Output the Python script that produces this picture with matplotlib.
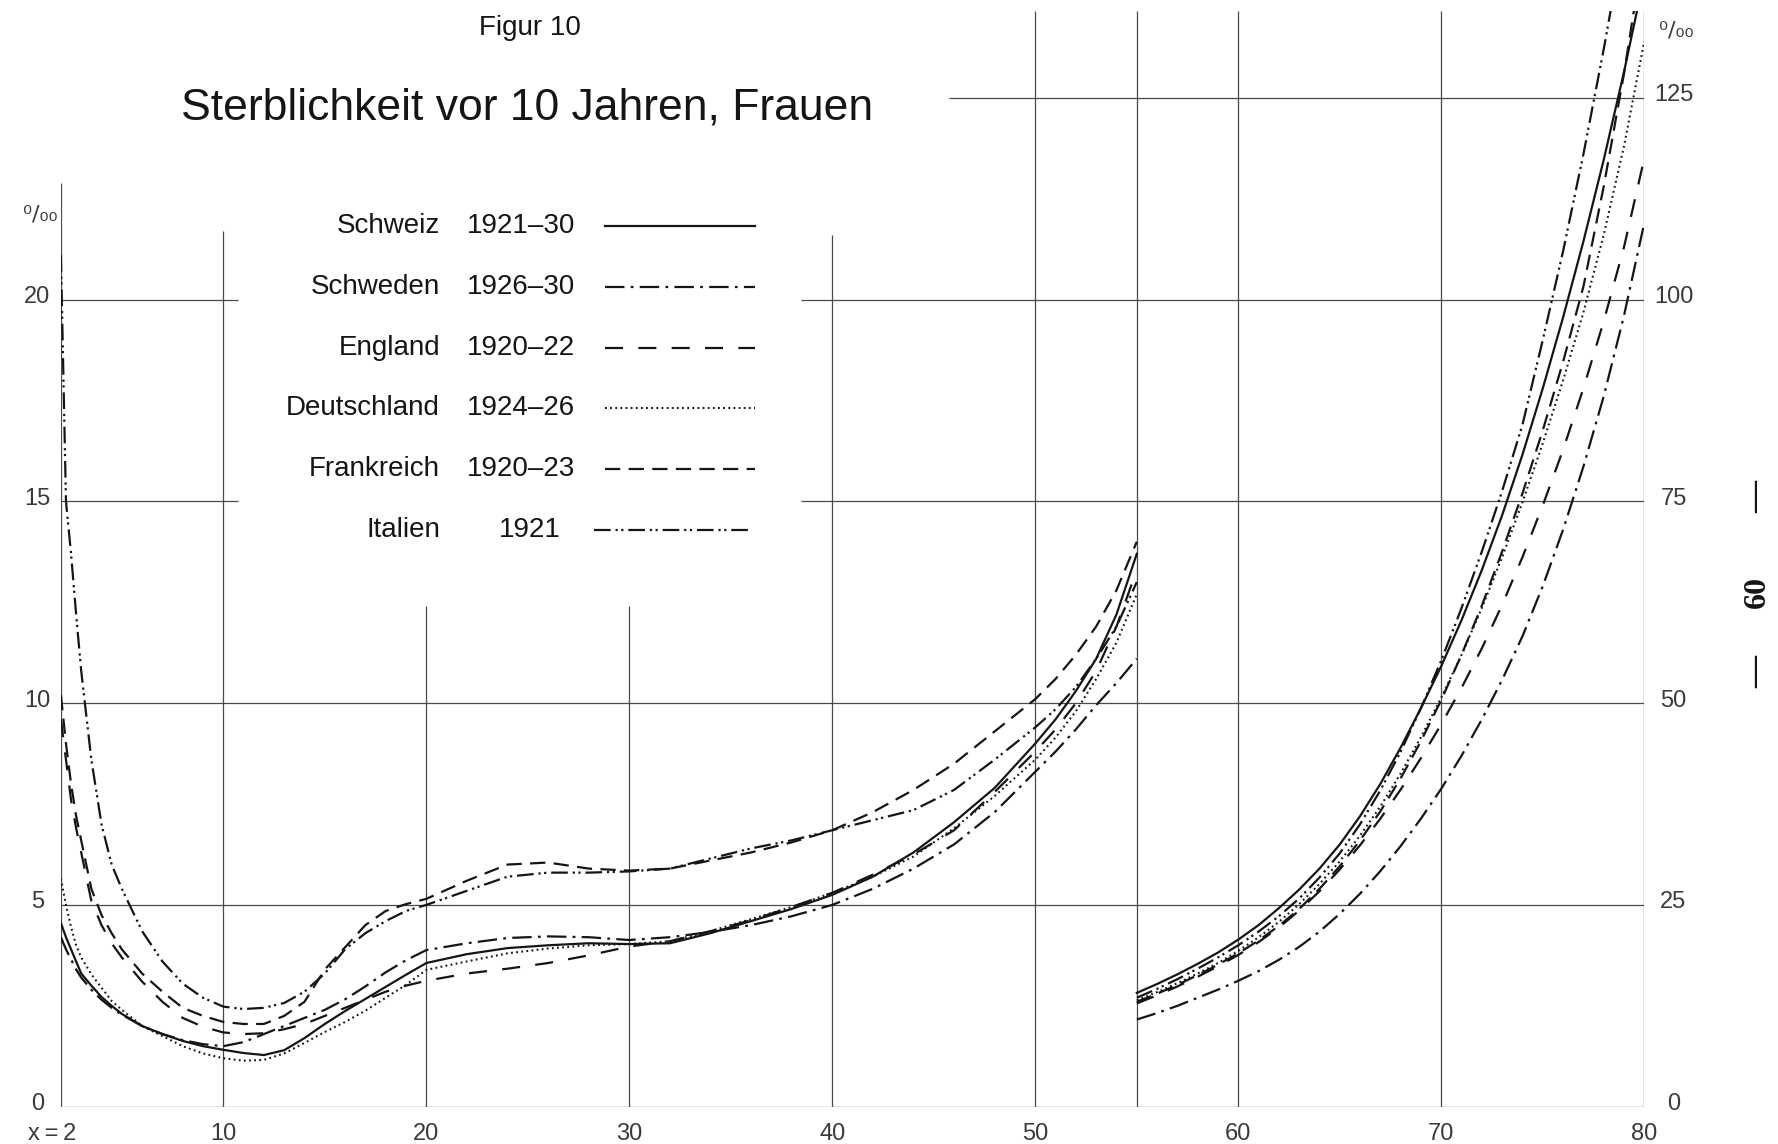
import matplotlib
matplotlib.use("Agg")
import matplotlib.pyplot as plt
from matplotlib.lines import Line2D
from matplotlib.transforms import ScaledTranslation

plt.rcParams['font.family'] = ['Liberation Sans Narrow', 'Liberation Sans', 'DejaVu Sans']
plt.rcParams['lines.scale_dashes'] = False

# Sterblichkeit (Promille) im Alter 2-55, linke Skala
ages_young = [2, 2.25, 2.5, 2.75, 3, 3.5, 4, 4.5, 5, 6, 7, 8, 9, 10, 11, 12, 13, 14, 15, 16, 17, 18, 19, 20,
              22, 24, 26, 28, 30, 32, 34, 36, 38, 40, 42, 44, 46, 48, 50, 51, 52, 53, 54, 55]
schweiz_young = [4.55, 4.2, 3.9, 3.6, 3.3, 3.0, 2.72, 2.5, 2.3, 2.0, 1.8, 1.63, 1.5, 1.41, 1.33, 1.28, 1.4, 1.7,
                 2.05, 2.37, 2.67, 2.97, 3.27, 3.56, 3.78, 3.93, 4.0, 4.05, 4.03, 4.05, 4.3, 4.6, 4.9, 5.25,
                 5.7, 6.3, 7.05, 7.9, 9.0, 9.6, 10.3, 11.1, 12.2, 13.7]
schweden_young = [4.2, 3.9, 3.65, 3.4, 3.2, 2.9, 2.65, 2.45, 2.28, 2.0, 1.8, 1.65, 1.55, 1.5, 1.6, 1.8, 2.0, 2.2,
                  2.4, 2.66, 2.98, 3.33, 3.63, 3.88, 4.05, 4.18, 4.22, 4.2, 4.13, 4.2, 4.33, 4.5, 4.72, 5.0,
                  5.4, 5.9, 6.5, 7.3, 8.3, 8.8, 9.35, 9.95, 10.5, 11.1]
england_young = [9.6, 8.6, 7.6, 6.9, 6.3, 5.1, 4.5, 4.05, 3.7, 3.1, 2.6, 2.2, 1.98, 1.84, 1.8, 1.82, 1.92, 2.05,
                 2.25, 2.45, 2.65, 2.85, 3.0, 3.12, 3.3, 3.42, 3.56, 3.75, 3.97, 4.1, 4.35, 4.62, 4.95, 5.3,
                 5.75, 6.25, 6.85, 7.8, 8.8, 9.35, 10.0, 10.8, 11.9, 13.3]
deutschland_young = [5.65, 5.0, 4.45, 4.0, 3.7, 3.28, 2.95, 2.62, 2.4, 2.0, 1.75, 1.5, 1.32, 1.2, 1.14, 1.16, 1.32,
                     1.58, 1.85, 2.1, 2.38, 2.7, 3.02, 3.39, 3.6, 3.8, 3.92, 4.0, 4.03, 4.1, 4.35, 4.65, 4.95,
                     5.3, 5.7, 6.2, 6.9, 7.7, 8.6, 9.15, 9.8, 10.6, 11.5, 12.7]
frankreich_young = [10.2, 9.0, 8.0, 7.2, 6.6, 5.4, 4.75, 4.3, 3.9, 3.3, 2.85, 2.45, 2.25, 2.1, 2.05, 2.05, 2.25,
                    2.6, 3.4, 3.95, 4.5, 4.85, 5.02, 5.15, 5.6, 6.0, 6.05, 5.9, 5.85, 5.9, 6.1, 6.3, 6.55, 6.85,
                    7.3, 7.85, 8.5, 9.3, 10.1, 10.6, 11.2, 11.9, 12.8, 14.0]
italien_young = [21.1, 15.0, 13.7, 12.2, 10.8, 8.6, 7.0, 6.0, 5.4, 4.35, 3.6, 3.05, 2.7, 2.48, 2.42, 2.45, 2.57,
                 2.85, 3.3, 3.9, 4.3, 4.6, 4.85, 5.0, 5.35, 5.7, 5.8, 5.8, 5.83, 5.9, 6.15, 6.4, 6.6, 6.85,
                 7.1, 7.35, 7.85, 8.6, 9.4, 9.85, 10.4, 11.1, 11.9, 13.0]

# Sterblichkeit (Promille) im Alter 55-80, rechte Skala
ages_old = list(range(55, 81))
schweiz_old = [14.1, 15.2, 16.4, 17.7, 19.1, 20.7, 22.5, 24.6, 26.9, 29.5, 32.5, 36.0, 40.0, 44.5, 49.4,
               54.6, 60.3, 66.5, 73.3, 80.8, 89.0, 97.8, 107.2, 117.3, 128.2, 140.0]
schweden_old = [10.8, 11.6, 12.5, 13.5, 14.5, 15.6, 16.8, 18.2, 19.8, 21.7, 23.9, 26.4, 29.2, 32.3, 35.7,
                39.4, 43.5, 48.0, 52.9, 58.3, 64.5, 71.5, 79.3, 88.0, 98.0, 109.5]
england_old = [12.8, 13.8, 14.9, 16.1, 17.4, 18.8, 20.4, 22.2, 24.3, 26.7, 29.4, 32.4, 35.7, 39.3, 43.2,
               47.4, 51.9, 56.8, 62.2, 68.1, 74.5, 81.4, 89.0, 97.3, 106.5, 117.5]
deutschland_old = [13.2, 14.2, 15.3, 16.5, 17.8, 19.3, 21.0, 22.9, 25.1, 27.6, 30.4, 33.6, 37.2, 41.3, 45.8,
                   50.7, 56.0, 61.8, 68.1, 74.9, 82.2, 90.0, 98.4, 108.0, 119.0, 132.0]
frankreich_old = [13.0, 14.0, 15.1, 16.3, 17.6, 19.0, 20.6, 22.4, 24.5, 27.0, 29.8, 33.0, 36.6, 40.7, 45.3,
                  50.4, 56.0, 62.1, 68.8, 76.0, 83.8, 92.3, 101.6, 114.0, 128.0, 144.0]
italien_old = [13.5, 14.6, 15.8, 17.1, 18.5, 20.0, 21.7, 23.6, 25.8, 28.4, 31.4, 35.0, 39.2, 44.0, 49.4,
               55.3, 61.8, 68.8, 76.3, 84.5, 95.0, 106.0, 118.0, 131.0, 145.0, 160.0]

countries = ['Schweiz', 'Schweden', 'England', 'Deutschland', 'Frankreich', 'Italien']
periods = ['1921\u201330', '1926\u201330', '1920\u201322', '1924\u201326', '1920\u201323', '1921']
young = [schweiz_young, schweden_young, england_young, deutschland_young, frankreich_young, italien_young]
old = [schweiz_old, schweden_old, england_old, deutschland_old, frankreich_old, italien_old]

left_ticks = [0, 5, 10, 15, 20]
right_ticks = [0, 25, 50, 75, 100, 125]
x_ticks = [2, 10, 20, 30, 40, 50, 60, 70, 80]
x_labels = ['x\u2009=\u20092', '10', '20', '30', '40', '50', '60', '70', '80']

INK = '#151515'
GRID = '#4a4a4a'
LABEL = '#3a3a3a'
styles = {
    'Schweiz': dict(linestyle='-', lw=1.6),
    'Schweden': dict(linestyle=(0, (14, 4.5, 2, 4.5)), lw=1.6),
    'England': dict(linestyle=(0, (13, 11)), lw=1.6),
    'Deutschland': dict(linestyle=(0, (1.3, 2.4)), lw=1.5),
    'Frankreich': dict(linestyle=(0, (11, 6)), lw=1.6),
    'Italien': dict(linestyle=(0, (12, 3.5, 1.6, 2.5, 1.6, 3.5)), lw=1.6),
}

YTOP = 27.15
fig = plt.figure(figsize=(17.78, 11.44), dpi=100)
ax = fig.add_axes([60.9 / 1778, 37.3 / 1144, 1583.4 / 1778, 1095.7 / 1144])
ax.set_xlim(2, 80)
ax.set_ylim(0, YTOP)
ax2 = ax.twinx()
ax2.set_ylim(0, 5 * YTOP)
for a in (ax, ax2):
    for s in a.spines.values():
        s.set_visible(False)
    a.patch.set_visible(False)

# Netzlinien (teilweise unterbrochen fuer Titel und Legende)
hsegs = [(0, 2, 80), (5, 2, 80), (10, 2, 80), (15, 2, 10.7), (15, 38.45, 80),
         (20, 2, 10.7), (20, 38.45, 80), (25, 45.75, 80)]
vsegs = [(2, 22.9), (10, 21.7), (20, 12.4), (30, 12.4), (40, 21.6),
         (50, YTOP), (55, YTOP), (60, YTOP), (70, YTOP), (80, YTOP)]
for y, x0, x1 in hsegs:
    ax.plot([x0, x1], [y, y], color=GRID, lw=0.9, zorder=1, solid_capstyle='butt')
for x, y1 in vsegs:
    ax.plot([x, x], [0, y1], color=GRID, lw=0.9, zorder=1, solid_capstyle='butt')

for name, yv, ov in zip(countries, young, old):
    st = styles[name]
    ax.plot(ages_young, yv, color=INK, linestyle=st['linestyle'], lw=st['lw'], zorder=3)
    ax2.plot(ages_old, ov, color=INK, linestyle=st['linestyle'], lw=st['lw'], zorder=3)

# Achsenbeschriftung
ax.set_xticks(x_ticks)
ax.set_xticklabels(x_labels)
ax.set_yticks(left_ticks)
ax2.set_yticks(right_ticks)
ax.tick_params(axis='x', length=0, pad=12, labelsize=17, labelcolor=LABEL)
ax.tick_params(axis='y', length=0, pad=17, labelsize=17, labelcolor=LABEL)
ax2.tick_params(axis='y', length=0, pad=21, labelsize=17, labelcolor=LABEL)
up = ScaledTranslation(0, 0.05, fig.dpi_scale_trans)
for lab in ax.get_yticklabels():
    lab.set_horizontalalignment('center')
    lab.set_transform(lab.get_transform() + up)
for lab in ax2.get_yticklabels():
    lab.set_horizontalalignment('center')
    lab.set_transform(lab.get_transform() + up)
ax.get_xticklabels()[0].set_transform(ax.get_xticklabels()[0].get_transform()
                                      + ScaledTranslation(-0.09, 0, fig.dpi_scale_trans))

permille = '\u2070/\u2080\u2080'
fig.text(40 / 1778, 1 - 215 / 1144, permille, ha='center', va='center', fontsize=16,
         color=LABEL, family=['DejaVu Sans'])
fig.text(1676 / 1778, 1 - 30 / 1144, permille, ha='center', va='center', fontsize=16,
         color=LABEL, family=['DejaVu Sans'])

# Titel
fig.text(530 / 1778, 1 - 28 / 1144, 'Figur 10', ha='center', va='center', fontsize=20, color=INK)
fig.text(527 / 1778, 1 - 108 / 1144, 'Sterblichkeit vor 10 Jahren, Frauen', ha='center', va='center',
         fontsize=32, color=INK)

# Legende
rows_y = [226, 287, 348, 408, 469, 530]
for name, per, yy in zip(countries, periods, rows_y):
    fy = 1 - yy / 1144
    fig.text(440 / 1778, fy, name, ha='right', va='center', fontsize=20, color=INK)
    if name == 'Italien':
        fig.text(530 / 1778, fy, per, ha='center', va='center', fontsize=20, color=INK)
        x0, x1 = 594, 750
    else:
        fig.text(467 / 1778, fy, per, ha='left', va='center', fontsize=20, color=INK)
        x0, x1 = 605, 755
    st = styles[name]
    fig.add_artist(Line2D([x0 / 1778, x1 / 1778], [fy, fy], color=INK,
                          linestyle=st['linestyle'], lw=st['lw']))

# Seitenzahl
for txt, yy in [('\u2014', 497), ('60', 592), ('\u2014', 672)]:
    fig.text(1757 / 1778, 1 - yy / 1144, txt, rotation=90, ha='center', va='center', fontsize=23,
             fontweight='bold', color=INK, family=['Liberation Serif', 'DejaVu Serif'])

fig.savefig('out.png', dpi=100, facecolor='white')
